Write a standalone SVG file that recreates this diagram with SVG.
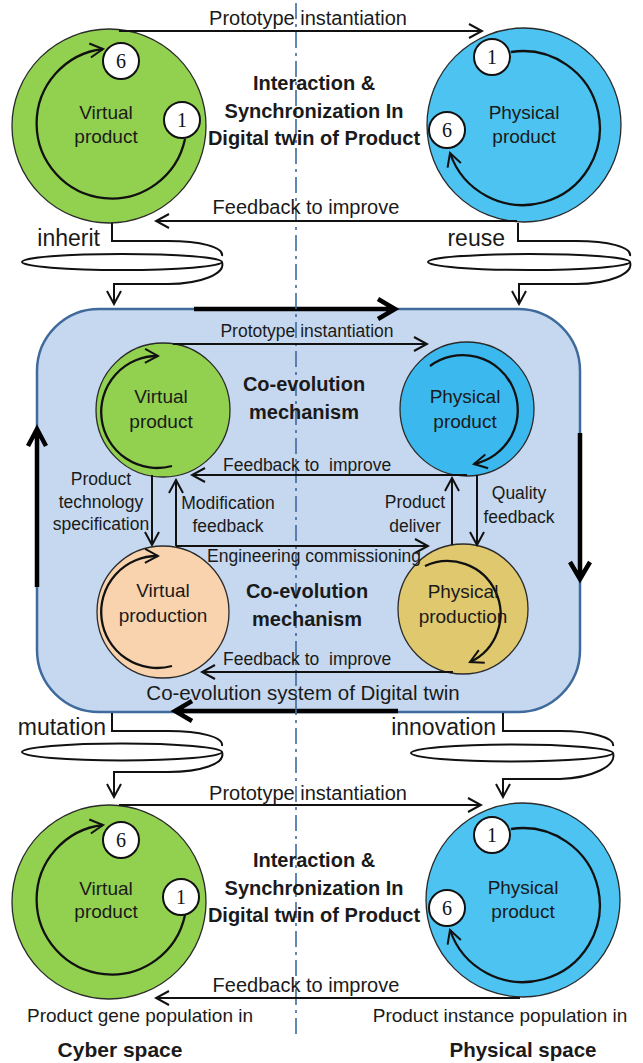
<svg xmlns="http://www.w3.org/2000/svg" width="643" height="1063" viewBox="0 0 643 1063">
<style>
.t{font-family:"Liberation Sans",Arial,sans-serif;fill:#1a1a1a}
.big{font-size:20px}
.mid{font-size:17.5px}
.node{font-size:19px;text-anchor:middle}
.bold{font-weight:bold;font-size:20px;text-anchor:middle}
.coil{font-size:23px}
.num{font-family:"Liberation Serif","Times New Roman",serif;font-size:20px;text-anchor:middle;fill:#111}
.ln{fill:none;stroke:#111;stroke-width:2}
.arc{fill:none;stroke:#111;stroke-width:2.3}
.thick{fill:none;stroke:#000;stroke-width:4.5}
.ncirc{stroke:#2a2a2a;stroke-width:1.3}
.badge{fill:#fff;stroke:#111;stroke-width:2}
</style>
<defs>
<marker id="ah" viewBox="-16 -9 18 18" markerWidth="18" markerHeight="18" refX="0" refY="0" orient="auto" markerUnits="userSpaceOnUse">
<path d="M-13,-7 L0,0 L-13,7" fill="none" stroke="#111" stroke-width="2"/>
</marker>
</defs>

<rect width="643" height="1063" fill="#fff"/>

<!-- background middle box -->
<g id="coevolution-system">
<rect x="37" y="309" width="543" height="403" rx="62" ry="62" fill="#c6d8ef" stroke="#3f6a9c" stroke-width="2.5"/>
<path class="thick" d="M194,309 H393 M378,299 L395,309 L378,319"/>
<path class="thick" d="M580,433 V578 M570,562 L580,579 L590,562"/>
<path class="thick" d="M398,711 H176 M192,701 L175,711 L192,721"/>
<path class="thick" d="M37,587 V430 M28,446 L37,429 L46,446"/>
<text class="t" x="303" y="700" font-size="20.5" text-anchor="middle">Co-evolution system of Digital twin</text>
</g>

<!-- axis -->
<line x1="296" y1="3" x2="296" y2="1037" stroke="#3d6aa0" stroke-width="1.6" stroke-dasharray="16 5 3 5"/>

<!-- TOP SECTION -->
<g id="top-virtual-product">
<circle class="ncirc" cx="109" cy="126" r="97" fill="#92d050"/>
<path class="arc" d="M185,139 A75,75 0 1 1 103,49" marker-end="url(#ah)"/>
<circle class="badge" cx="121" cy="61" r="18"/>
<text class="num" x="121" y="68">6</text>
<circle class="badge" cx="182" cy="120" r="18"/>
<text class="num" x="182" y="127">1</text>
<text class="t node" x="106" y="119">Virtual</text>
<text class="t node" x="106" y="143">product</text>
</g>
<g id="top-physical-product">
<circle class="ncirc" cx="524" cy="125" r="97" fill="#4cc3f0"/>
<path class="arc" d="M511,52 A77,77 0 1 1 450,153" marker-end="url(#ah)"/>
<circle class="badge" cx="492" cy="57" r="18"/>
<text class="num" x="492" y="64">1</text>
<circle class="badge" cx="447" cy="130" r="18"/>
<text class="num" x="447" y="137">6</text>
<text class="t node" x="524" y="119">Physical</text>
<text class="t node" x="524" y="143">product</text>
</g>
<g id="top-title">
<text class="t bold" x="314" y="90">Interaction &amp;</text>
<text class="t bold" x="314" y="118">Synchronization In</text>
<text class="t bold" x="314" y="145">Digital twin of Product</text>
</g>

<!-- MIDDLE NODES -->
<g id="mid-virtual-product">
<circle class="ncirc" cx="163" cy="410" r="67" fill="#92d050"/>
<path class="arc" d="M172,466 A56,56 0 1 1 158,356" marker-end="url(#ah)"/>
<text class="t node" x="161" y="403">Virtual</text>
<text class="t node" x="161" y="428">product</text>
</g>
<g id="mid-physical-product">
<circle class="ncirc" cx="467" cy="409" r="67" fill="#3bb9ee"/>
<path class="arc" d="M430,366 A55,55 0 1 1 474,464" marker-end="url(#ah)"/>
<text class="t node" x="465" y="403">Physical</text>
<text class="t node" x="465" y="428">product</text>
</g>
<g id="mid-virtual-production">
<circle class="ncirc" cx="163" cy="612" r="66" fill="#f9d3ae"/>
<path class="arc" d="M172,666 A56,56 0 1 1 158,556" marker-end="url(#ah)"/>
<text class="t node" x="163" y="597">Virtual</text>
<text class="t node" x="163" y="622">production</text>
</g>
<g id="mid-physical-production">
<circle class="ncirc" cx="463" cy="609" r="65" fill="#e0c86f"/>
<path class="arc" d="M425,566 A53,53 0 1 1 470,662" marker-end="url(#ah)"/>
<text class="t node" x="463" y="598">Physical</text>
<text class="t node" x="463" y="623">production</text>
</g>
<g id="mid-titles">
<text class="t bold" x="304" y="391">Co-evolution</text>
<text class="t bold" x="304" y="419">mechanism</text>
<text class="t bold" x="307" y="598">Co-evolution</text>
<text class="t bold" x="307" y="626">mechanism</text>
</g>

<!-- BOTTOM SECTION -->
<g id="bottom-virtual-product">
<circle class="ncirc" cx="109" cy="902" r="97" fill="#92d050"/>
<path class="arc" d="M185,915 A75,75 0 1 1 103,825" marker-end="url(#ah)"/>
<circle class="badge" cx="121" cy="840" r="18"/>
<text class="num" x="121" y="847">6</text>
<circle class="badge" cx="181" cy="897" r="18"/>
<text class="num" x="181" y="904">1</text>
<text class="t node" x="106" y="895">Virtual</text>
<text class="t node" x="106" y="918">product</text>
</g>
<g id="bottom-physical-product">
<circle class="ncirc" cx="523" cy="900" r="97" fill="#4cc3f0"/>
<path class="arc" d="M511,829 A77,77 0 1 1 450,930" marker-end="url(#ah)"/>
<circle class="badge" cx="492" cy="835" r="18"/>
<text class="num" x="492" y="842">1</text>
<circle class="badge" cx="447" cy="908" r="18"/>
<text class="num" x="447" y="915">6</text>
<text class="t node" x="523" y="894">Physical</text>
<text class="t node" x="523" y="918">product</text>
</g>
<g id="bottom-title">
<text class="t bold" x="314" y="867">Interaction &amp;</text>
<text class="t bold" x="314" y="895">Synchronization In</text>
<text class="t bold" x="314" y="922">Digital twin of Product</text>
</g>
<g id="space-labels">
<text class="t" x="140" y="1022" font-size="19" text-anchor="middle">Product gene population in</text>
<text class="t" x="120" y="1057" font-size="21" font-weight="bold" text-anchor="middle">Cyber space</text>
<text class="t" x="500" y="1022" font-size="19" text-anchor="middle">Product instance population in</text>
<text class="t" x="523" y="1057" font-size="20.5" font-weight="bold" text-anchor="middle">Physical space</text>
</g>

<!-- CONNECTORS -->
<g id="connectors">
<!-- top -->
<path class="ln" d="M119,31 H482" marker-end="url(#ah)"/>
<text class="t big" x="308" y="25" text-anchor="middle">Prototype instantiation</text>
<path class="ln" d="M517,221 H156" marker-end="url(#ah)"/>
<text class="t big" x="306" y="214" text-anchor="middle">Feedback to improve</text>

<!-- inherit / reuse -->
<path class="ln" d="M112,223 V241 H168 C200,241 224,247 222,256"/>
<ellipse class="ln" cx="122" cy="262" rx="100" ry="8"/>
<path class="ln" d="M222,262 C226,274 200,284 168,284 H114 V304" marker-end="url(#ah)"/>
<text class="t coil" x="100" y="246" text-anchor="end">inherit</text>
<path class="ln" d="M518,223 V241 H576 C608,241 632,247 630,256"/>
<ellipse class="ln" cx="529" cy="262" rx="101" ry="8"/>
<path class="ln" d="M630,262 C634,274 608,284 576,284 H519 V304" marker-end="url(#ah)"/>
<text class="t coil" x="505" y="246" text-anchor="end">reuse</text>

<!-- middle -->
<path class="ln" d="M173,344 H427" marker-end="url(#ah)"/>
<text class="t mid" x="307" y="337" text-anchor="middle">Prototype instantiation</text>
<path class="ln" d="M467,475 H192" marker-end="url(#ah)"/>
<text class="t mid" x="223" y="471" xml:space="preserve">Feedback to  improve</text>
<path class="ln" d="M152,475 V545" marker-end="url(#ah)"/>
<text class="t mid" x="101" y="485" text-anchor="middle">Product</text>
<text class="t mid" x="101" y="508" text-anchor="middle">technology</text>
<text class="t mid" x="101" y="530" text-anchor="middle">specification</text>
<path class="ln" d="M176,546 V480" marker-end="url(#ah)"/>
<text class="t mid" x="228" y="509" text-anchor="middle">Modification</text>
<text class="t mid" x="228" y="532" text-anchor="middle">feedback</text>
<path class="ln" d="M176,546 H428" marker-end="url(#ah)"/>
<text class="t mid" x="207" y="562">Engineering commissioning</text>
<path class="ln" d="M452,545 V478" marker-end="url(#ah)"/>
<text class="t mid" x="415" y="508" text-anchor="middle">Product</text>
<text class="t mid" x="415" y="532" text-anchor="middle">deliver</text>
<path class="ln" d="M477,475 V545" marker-end="url(#ah)"/>
<text class="t mid" x="519" y="499" text-anchor="middle">Quality</text>
<text class="t mid" x="519" y="523" text-anchor="middle">feedback</text>
<path class="ln" d="M453,672 H202" marker-end="url(#ah)"/>
<text class="t mid" x="223" y="665" xml:space="preserve">Feedback to  improve</text>

<!-- mutation / innovation -->
<path class="ln" d="M112,713 V731 H168 C200,731 224,737 222,746"/>
<ellipse class="ln" cx="122" cy="752" rx="100" ry="8.5"/>
<path class="ln" d="M222,752 C226,764 200,772 168,772 H114 V797" marker-end="url(#ah)"/>
<text class="t coil" x="106" y="735" text-anchor="end">mutation</text>
<path class="ln" d="M503,713 V731 H560 C592,731 615,738 613,746"/>
<ellipse class="ln" cx="512" cy="753" rx="101" ry="8.5"/>
<path class="ln" d="M613,753 C617,766 592,778 560,779 H503 V797" marker-end="url(#ah)"/>
<text class="t coil" x="496" y="735" text-anchor="end">innovation</text>

<!-- bottom -->
<path class="ln" d="M119,805 H481" marker-end="url(#ah)"/>
<text class="t big" x="308" y="800" text-anchor="middle">Prototype instantiation</text>
<path class="ln" d="M520,998 H156" marker-end="url(#ah)"/>
<text class="t big" x="306" y="992" text-anchor="middle">Feedback to improve</text>
</g>
</svg>
